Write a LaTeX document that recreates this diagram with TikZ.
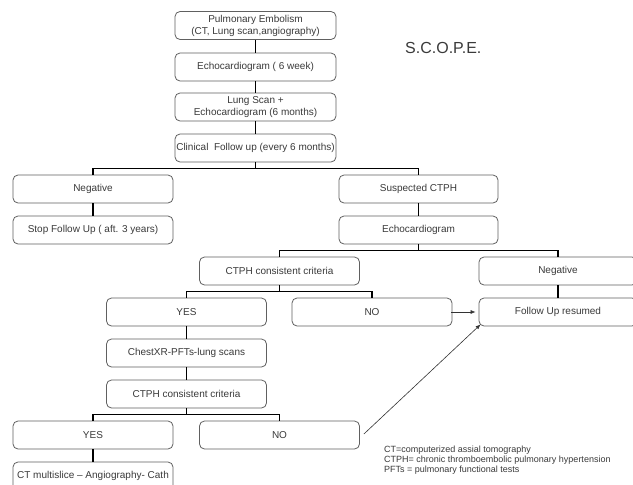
\documentclass[tikz,border=0pt]{standalone}
\usepackage{fontspec}
\setmainfont{Liberation Sans}
\usetikzlibrary{arrows.meta}
\definecolor{txt}{HTML}{3A3A3A}
\definecolor{bord}{HTML}{606060}
\begin{document}
\begin{tikzpicture}[x=1pt,y=-1pt,
  box/.style={draw=bord,line width=0.8pt,rounded corners=5pt,minimum width=160pt,minimum height=28pt,inner sep=0pt,align=center,text=txt,font=\fontsize{10}{12}\selectfont},
  wbox/.style={box,minimum width=161pt},
  conn/.style={black,line width=1.8pt},
  thin/.style={black!80,line width=0.6pt,-{Latex[length=5pt,width=4pt]}}]
\clip (0,0) rectangle (633,485);
\fill[white] (0,0) rectangle (633,485);
\node[wbox] (pe) at (255.5,25.5) {Pulmonary Embolism\\(CT, Lung scan,angiography)};
\node[wbox] (echo6) at (255.5,67) {Echocardiogram ( 6 week)};
\node[wbox] (lung) at (255.5,107) {Lung Scan +\\Echocardiogram (6 months)};
\node[wbox] (clin) at (255.5,148) {Clinical\ \ Follow up (every 6 months)};
\node[box] (negl) at (93,189) {Negative};
\node[box] (stop) at (93,230) {Stop Follow Up ( aft. 3 years)};
\node[box,minimum width=159pt] (susp) at (418.5,189) {Suspected CTPH};
\node[box,minimum width=159pt] (echo) at (418.5,230) {Echocardiogram};
\node[box] (crit1) at (279.5,271) {CTPH consistent criteria};
\node[box,minimum width=158pt] (negr) at (558,271) {Negative};
\node[box] (yes1) at (186.5,312) {YES};
\node[box] (no1) at (372,312) {NO};
\node[box,minimum width=158pt] (fu) at (558,312) {Follow Up resumed};
\node[box] (chest) at (186.5,353) {ChestXR-PFTs-lung scans};
\node[box] (crit2) at (186.5,394) {CTPH consistent criteria};
\node[box] (yes2) at (93,435) {YES};
\node[box] (no2) at (279.5,435) {NO};
\node[box] (ct) at (93,476) {CT multislice -- Angiography- Cath};
\node[text=txt,font=\fontsize{16}{18}\selectfont,anchor=west,inner sep=0pt] (title) at (405,48) {S.C.O.P.E.};
\node[text=txt,font=\fontsize{9}{10}\selectfont,anchor=north west,align=left,inner sep=0pt] (legend) at (384,446) {CT=computerized assial tomography\\CTPH= chronic thromboembolic pulmonary hypertension\\PFTs = pulmonary functional tests};
\draw[conn] (pe) -- (echo6);
\draw[conn] (echo6) -- (lung);
\draw[conn] (lung) -- (clin);
\draw[conn] (clin.south) -- ++(0,6) -| (negl.north);
\draw[conn] (clin.south) -- ++(0,6) -| (susp.north);
\draw[conn] (negl) -- (stop);
\draw[conn] (susp) -- (echo);
\draw[conn] (echo.south) -- ++(0,6) -| (crit1.north);
\draw[conn] (echo.south) -- ++(0,6) -| (negr.north);
\draw[conn] (crit1.south) -- ++(0,6) -| (yes1.north);
\draw[conn] (crit1.south) -- ++(0,6) -| (no1.north);
\draw[conn] (negr) -- (fu);
\draw[conn] (yes1) -- (chest);
\draw[conn] (chest) -- (crit2);
\draw[conn] (crit2.south) -- ++(0,6) -| (yes2.north);
\draw[conn] (crit2.south) -- ++(0,6) -| (no2.north);
\draw[conn] (yes2) -- (ct);
\coordinate (a1) at ([xshift=-1pt]no1.east);
\coordinate (a2) at ([xshift=-3pt]fu.west);
\draw[thin] (a1) -- (a2);
\coordinate (b1) at ([xshift=4pt,yshift=1pt]no2.east);
\coordinate (b2) at ([xshift=2pt,yshift=2pt]fu.south west);
\draw[thin] (b1) -- (b2);
\end{tikzpicture}
\end{document}
